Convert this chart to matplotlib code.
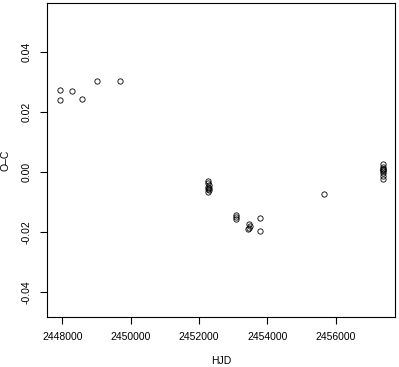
import matplotlib
matplotlib.use("Agg")
from matplotlib import pyplot as plt

# O-C data
hjd = [2447930, 2447935, 2448275, 2448580, 2449015, 2449690,
       2452255, 2452270, 2452280, 2452265, 2452290, 2452275, 2452285, 2452270,
       2453070, 2453075, 2453080,
       2453430, 2453450, 2453470, 2453500,
       2453800, 2453800,
       2455660,
       2457395, 2457395, 2457400, 2457390, 2457398, 2457402, 2457395, 2457395, 2457392]
oc = [0.0272, 0.0240, 0.0268, 0.0241, 0.0302, 0.0302,
      -0.0030, -0.0038, -0.0045, -0.0050, -0.0055, -0.0058, -0.0062, -0.0066,
      -0.0143, -0.0150, -0.0157,
      -0.0191, -0.0187, -0.0174, -0.0180,
      -0.0155, -0.0197,
      -0.0073,
      0.0025, 0.0015, 0.0010, 0.0008, 0.0006, 0.0003, -0.0005, -0.0015, -0.0025]

xticks = [2448000, 2450000, 2452000, 2454000, 2456000]
yticks = [0.04, 0.02, 0.0, -0.02, -0.04]

plt.rcParams["font.family"] = ["Liberation Sans", "DejaVu Sans"]

fig = plt.figure(figsize=(3.99, 3.67), dpi=100)
ax = fig.add_axes([0.118, 0.136, 0.872, 0.856])
ax.plot(hjd, oc, linestyle="none", marker="o", markersize=3.8,
        markerfacecolor="none", markeredgecolor="black", markeredgewidth=0.6)

ax.set_xlim(2447550, 2457740)
ax.set_ylim(-0.0484, 0.0562)
ax.set_xticks(xticks)
ax.set_xticklabels([str(t) for t in xticks])
ax.set_yticks(yticks)
ax.set_yticklabels([f"{t:.2f}".replace("-0.00", "0.00") for t in yticks],
                   rotation=90, va="center")
ax.tick_params(labelsize=7.5, length=5, width=0.8, pad=6)
for s in ax.spines.values():
    s.set_linewidth(0.8)

ax.set_xlabel("HJD", fontsize=7.5, labelpad=10)
ax.set_ylabel("O\u2013C", fontsize=7.5)
ax.yaxis.set_label_coords(-0.105, 0.5)

fig.savefig("out.png", dpi=100)
